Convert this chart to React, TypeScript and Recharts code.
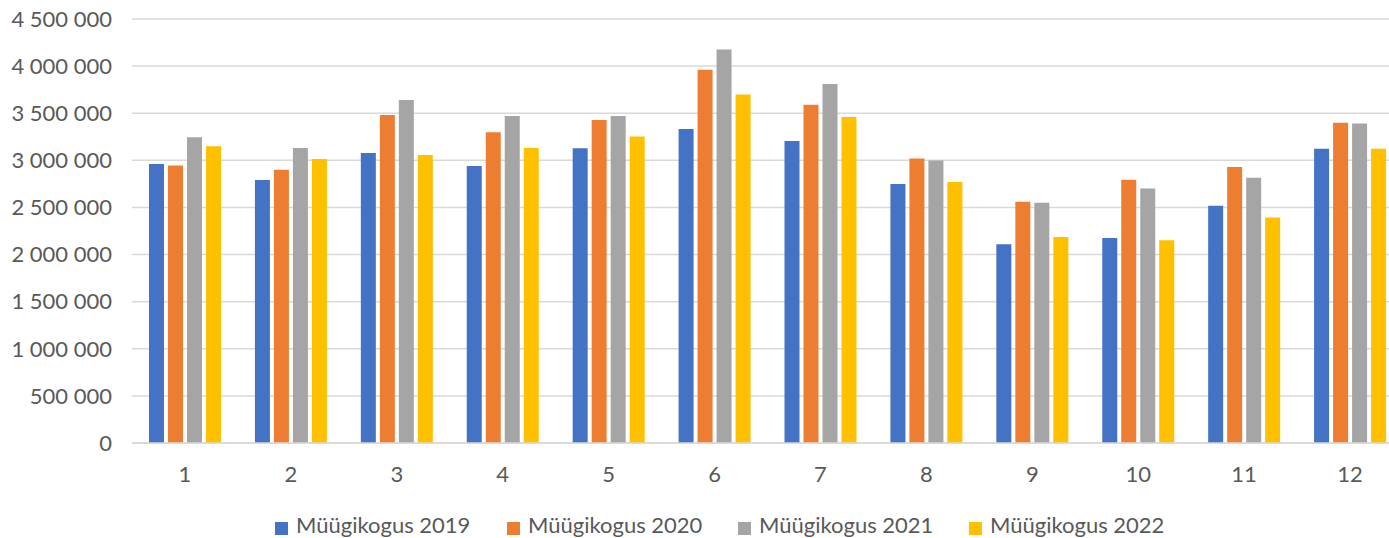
import React from "react";
import { BarChart, Bar, XAxis, YAxis, CartesianGrid } from "recharts";

// monthly sales volume
const months = ["1", "2", "3", "4", "5", "6", "7", "8", "9", "10", "11", "12"];
const sales2019 = [2960000, 2792000, 3078000, 2940000, 3127000, 3333000, 3206000, 2750000, 2110000, 2177000, 2518000, 3124000];
const sales2020 = [2945000, 2900000, 3480000, 3297000, 3429000, 3962000, 3590000, 3020000, 2560000, 2794000, 2930000, 3400000];
const sales2021 = [3244000, 3130000, 3640000, 3470000, 3470000, 4177000, 3810000, 2997000, 2550000, 2700000, 2815000, 3390000];
const sales2022 = [3149000, 3015000, 3057000, 3130000, 3254000, 3700000, 3460000, 2770000, 2185000, 2153000, 2394000, 3124000];
const yTicks = [0, 500000, 1000000, 1500000, 2000000, 2500000, 3000000, 3500000, 4000000, 4500000];

const series = [
  { key: "s2019", name: "Müügikogus 2019", color: "#4472C4", values: sales2019 },
  { key: "s2020", name: "Müügikogus 2020", color: "#ED7D31", values: sales2020 },
  { key: "s2021", name: "Müügikogus 2021", color: "#A5A5A5", values: sales2021 },
  { key: "s2022", name: "Müügikogus 2022", color: "#FFC000", values: sales2022 },
];

const data = months.map((m, i) => {
  const row: Record<string, string | number> = { month: m };
  series.forEach((s) => {
    row[s.key] = s.values[i];
  });
  return row;
});

const FONT = "Lato, 'Noto Sans', sans-serif";
const TEXT = "#595959";

function formatSpaced(v: number) {
  return String(Math.round(v)).replace(/\B(?=(\d{3})+(?!\d))/g, " ");
}

const legendLeft = [275, 507, 738, 969];

export default function App() {
  return (
    <div style={{ position: "relative", width: 1389, height: 538, overflow: "hidden", background: "#fff" }}>
      <style>{`body{margin:0}`}</style>
      <BarChart
        width={1410}
        height={538}
        data={data}
        margin={{ top: 19, right: 7, bottom: 55, left: 0 }}
        barGap={4}
        barSize={15}
      >
        <CartesianGrid vertical={false} stroke="#d9d9d9" strokeWidth={1.5} />
        <XAxis
          dataKey="month"
          height={40}
          axisLine={{ stroke: "#d9d9d9", strokeWidth: 1.5 }}
          tickLine={false}
          tickSize={0}
          tickMargin={23}
          tick={{ fill: TEXT, fontSize: 22, fontFamily: FONT }}
        />
        <YAxis
          width={132}
          domain={[0, 4500000]}
          ticks={yTicks}
          interval={0}
          axisLine={false}
          tickLine={false}
          tickSize={0}
          tickMargin={20}
          tickFormatter={(v) => formatSpaced(Number(v))}
          tick={{ fill: TEXT, fontSize: 22, fontFamily: FONT }}
        />
        {series.map((s) => (
          <Bar key={s.key} dataKey={s.key} name={s.name} fill={s.color} isAnimationActive={false} />
        ))}
      </BarChart>
      {series.map((s, i) => (
        <React.Fragment key={s.key}>
          <span
            style={{
              position: "absolute",
              left: legendLeft[i],
              top: 522,
              width: 13,
              height: 13,
              background: s.color,
            }}
          />
          <span
            style={{
              position: "absolute",
              left: legendLeft[i] + 21,
              top: 514,
              height: 22,
              lineHeight: "22px",
              fontFamily: FONT,
              fontSize: 22,
              color: TEXT,
              whiteSpace: "nowrap",
            }}
          >
            {s.name}
          </span>
        </React.Fragment>
      ))}
    </div>
  );
}
